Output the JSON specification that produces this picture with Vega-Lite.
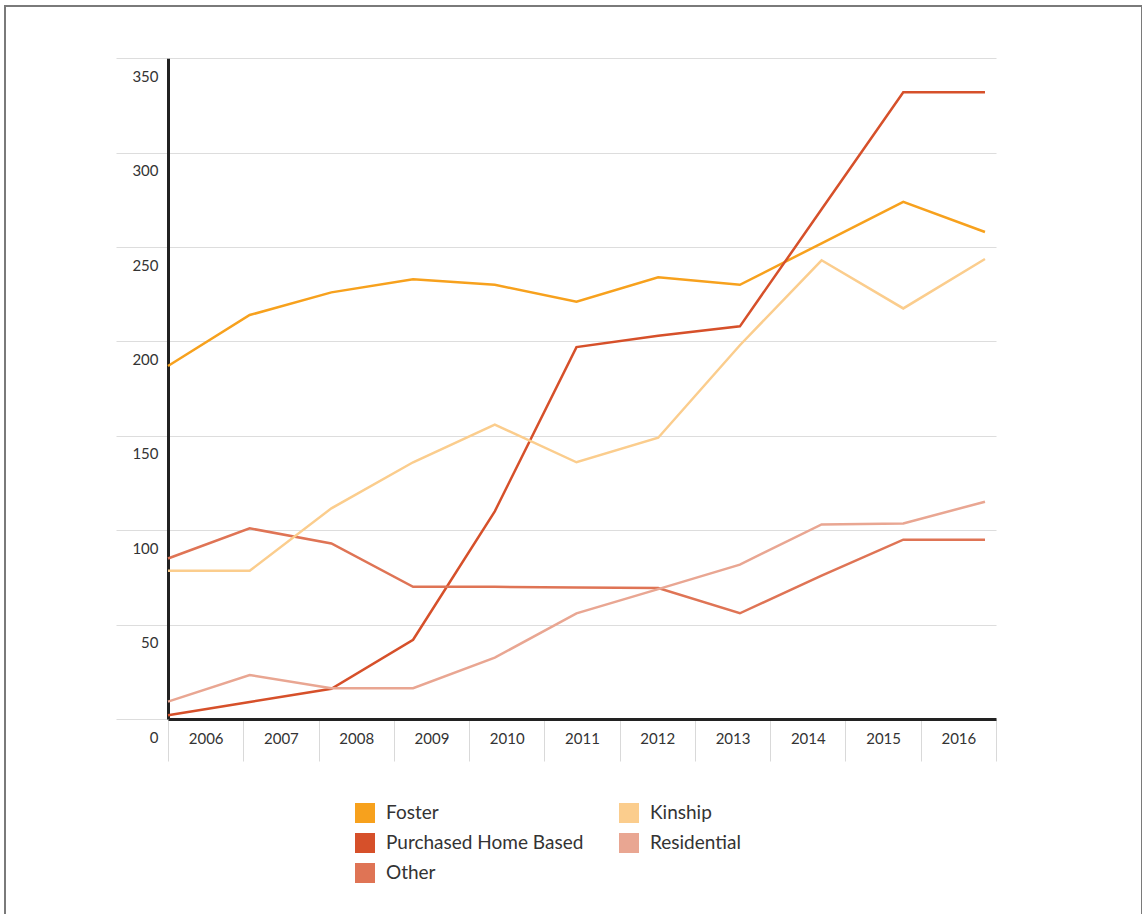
{
  "$schema": "https://vega.github.io/schema/vega-lite/v6.json",
  "width": 1137,
  "height": 916,
  "autosize": {"type": "none"},
  "padding": {"left": 5, "top": 6, "right": 0, "bottom": 0},
  "background": "white",
  "config": {
    "view": {"stroke": "#7a7a7a", "strokeWidth": 2},
    "font": "Lato"
  },
  "datasets": {
    "series": [
      {"year": 2006, "series": "Foster", "value": 187},
      {"year": 2007, "series": "Foster", "value": 214},
      {"year": 2008, "series": "Foster", "value": 226},
      {"year": 2009, "series": "Foster", "value": 233},
      {"year": 2010, "series": "Foster", "value": 230},
      {"year": 2011, "series": "Foster", "value": 221},
      {"year": 2012, "series": "Foster", "value": 234},
      {"year": 2013, "series": "Foster", "value": 230},
      {"year": 2014, "series": "Foster", "value": 252},
      {"year": 2015, "series": "Foster", "value": 274},
      {"year": 2016, "series": "Foster", "value": 258},
      {"year": 2006, "series": "Purchased Home Based", "value": 2},
      {"year": 2007, "series": "Purchased Home Based", "value": 9},
      {"year": 2008, "series": "Purchased Home Based", "value": 16},
      {"year": 2009, "series": "Purchased Home Based", "value": 42},
      {"year": 2010, "series": "Purchased Home Based", "value": 110},
      {"year": 2011, "series": "Purchased Home Based", "value": 197},
      {"year": 2012, "series": "Purchased Home Based", "value": 203},
      {"year": 2013, "series": "Purchased Home Based", "value": 208},
      {"year": 2014, "series": "Purchased Home Based", "value": 270},
      {"year": 2015, "series": "Purchased Home Based", "value": 332},
      {"year": 2016, "series": "Purchased Home Based", "value": 332},
      {"year": 2006, "series": "Other", "value": 85},
      {"year": 2007, "series": "Other", "value": 101},
      {"year": 2008, "series": "Other", "value": 93},
      {"year": 2009, "series": "Other", "value": 70},
      {"year": 2010, "series": "Other", "value": 70},
      {"year": 2011, "series": "Other", "value": 69.6},
      {"year": 2012, "series": "Other", "value": 69.4},
      {"year": 2013, "series": "Other", "value": 56},
      {"year": 2014, "series": "Other", "value": 76},
      {"year": 2015, "series": "Other", "value": 95},
      {"year": 2016, "series": "Other", "value": 95},
      {"year": 2006, "series": "Kinship", "value": 78.5},
      {"year": 2007, "series": "Kinship", "value": 78.5},
      {"year": 2008, "series": "Kinship", "value": 111.6},
      {"year": 2009, "series": "Kinship", "value": 136},
      {"year": 2010, "series": "Kinship", "value": 156},
      {"year": 2011, "series": "Kinship", "value": 136},
      {"year": 2012, "series": "Kinship", "value": 149},
      {"year": 2013, "series": "Kinship", "value": 198},
      {"year": 2014, "series": "Kinship", "value": 243},
      {"year": 2015, "series": "Kinship", "value": 217.5},
      {"year": 2016, "series": "Kinship", "value": 243.7},
      {"year": 2006, "series": "Residential", "value": 9.2},
      {"year": 2007, "series": "Residential", "value": 23.3},
      {"year": 2008, "series": "Residential", "value": 16.3},
      {"year": 2009, "series": "Residential", "value": 16.3},
      {"year": 2010, "series": "Residential", "value": 32.5},
      {"year": 2011, "series": "Residential", "value": 56},
      {"year": 2012, "series": "Residential", "value": 68.8},
      {"year": 2013, "series": "Residential", "value": 81.8},
      {"year": 2014, "series": "Residential", "value": 103.1},
      {"year": 2015, "series": "Residential", "value": 103.6},
      {"year": 2016, "series": "Residential", "value": 115.1}
    ],
    "years": [
      {"yr": "2006"}, {"yr": "2007"}, {"yr": "2008"}, {"yr": "2009"},
      {"yr": "2010"}, {"yr": "2011"}, {"yr": "2012"}, {"yr": "2013"},
      {"yr": "2014"}, {"yr": "2015"}, {"yr": "2016"}
    ]
  },
  "layer": [
    {
      "data": {"name": "years"},
      "mark": {"type": "bar", "opacity": 0},
      "encoding": {
        "x": {
          "field": "yr",
          "type": "ordinal",
          "scale": {"type": "band", "range": [163, 991], "paddingInner": 0, "paddingOuter": 0},
          "axis": {
            "title": null,
            "orient": "bottom",
            "offset": -203,
            "domain": true,
            "domainColor": "#222222",
            "domainWidth": 3,
            "ticks": true,
            "tickBand": "extent",
            "tickColor": "#d9d9d9",
            "tickWidth": 1,
            "tickSize": 42,
            "labelAngle": 0,
            "labelBaseline": "middle",
            "labelPadding": -23,
            "labelFont": "Lato",
            "labelFontSize": 15,
            "labelColor": "#333333",
            "grid": false
          }
        }
      }
    },
    {
      "data": {"name": "series"},
      "mark": {"type": "line", "strokeWidth": 2.5},
      "encoding": {
        "x": {
          "field": "year",
          "type": "quantitative",
          "scale": {"domain": [2006, 2016.135], "range": [163, 991], "nice": false, "zero": false},
          "axis": null
        },
        "y": {
          "field": "value",
          "type": "quantitative",
          "scale": {"domain": [0, 350], "range": [713, 52.3], "nice": false},
          "axis": {
            "title": null,
            "orient": "left",
            "offset": -163,
            "values": [0, 50, 100, 150, 200, 250, 300, 350],
            "domain": true,
            "domainColor": "#222222",
            "domainWidth": 3,
            "ticks": true,
            "tickColor": "#dddddd",
            "tickWidth": 1,
            "tickSize": 52,
            "grid": true,
            "gridColor": "#dddddd",
            "gridWidth": 1,
            "labelAlign": "right",
            "labelBaseline": "middle",
            "labelPadding": -42,
            "labelOffset": 18,
            "labelFont": "Lato",
            "labelFontSize": 15,
            "labelColor": "#333333"
          }
        },
        "color": {
          "field": "series",
          "type": "nominal",
          "scale": {
            "domain": ["Foster", "Purchased Home Based", "Other", "Kinship", "Residential"],
            "range": ["#F7A11D", "#D6502A", "#DF7455", "#FBCD8D", "#E9A692"]
          },
          "legend": {
            "title": null,
            "orient": "none",
            "legendX": 350,
            "legendY": 797,
            "columns": 2,
            "padding": 0,
            "symbolType": "square",
            "symbolSize": 400,
            "symbolStrokeWidth": 0,
            "labelFont": "Lato",
            "labelFontSize": 19,
            "labelColor": "#333333",
            "labelOffset": 11,
            "labelLimit": 400,
            "rowPadding": 10,
            "columnPadding": 35,
            "encode": {
              "symbols": {
                "update": {
                  "fill": {"scale": "color", "field": "value"},
                  "stroke": {"value": "transparent"},
                  "opacity": {"value": 1}
                }
              }
            }
          }
        }
      }
    }
  ],
  "resolve": {"scale": {"x": "independent"}, "axis": {"x": "independent"}}
}
